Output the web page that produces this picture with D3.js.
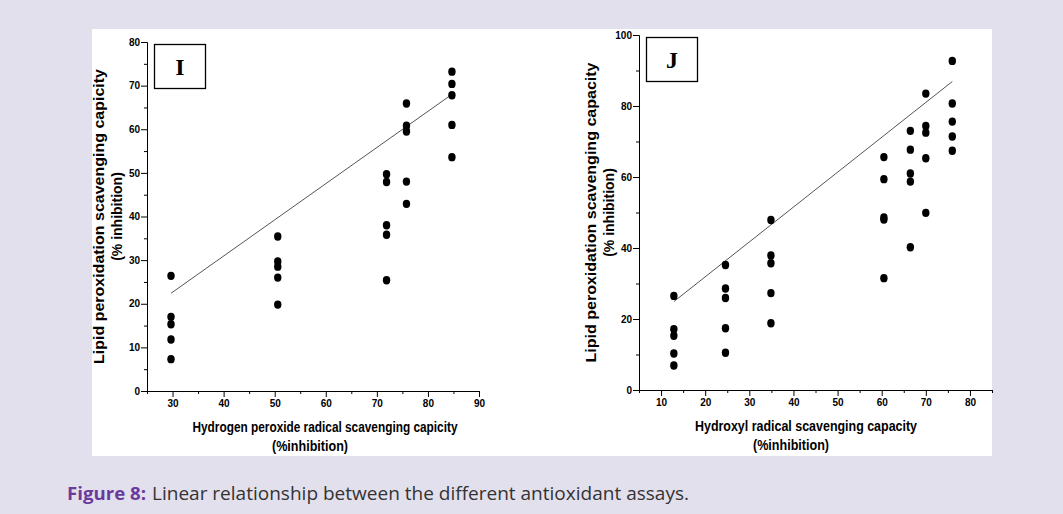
<!DOCTYPE html>
<html>
<head>
<meta charset="utf-8">
<script src="https://cdn.jsdelivr.net/npm/d3@7"></script>
<style>
	body { margin: 0; background: #e3e0ee; }
	svg { display: block; }
	.axis text { font-family: "Liberation Sans", Arial, sans-serif; font-weight: bold; font-size: 10px; fill: #000; }
	.axis path, .axis line { stroke: #000; stroke-width: 1; }
</style>
</head>
<body>
<div id="figure"></div>
<script>
var w = 1063;
var h = 514;

// Panel I : hydrogen peroxide vs lipid peroxidation
var xColsI = [29.7, 50.6, 71.9, 75.8, 84.7];
var yColsI = [
	[26.4, 17.0, 15.3, 11.8, 7.3],
	[35.4, 29.7, 28.5, 26.0, 19.8],
	[49.7, 47.9, 38.0, 35.8, 25.4],
	[65.9, 60.8, 59.5, 48.0, 42.9],
	[73.2, 70.4, 67.8, 61.0, 53.6]
];
var fitI = [[29.7, 22.4], [84.7, 68.0]];
var xTicksI = [30, 40, 50, 60, 70, 80, 90];
var yTicksI = [0, 10, 20, 30, 40, 50, 60, 70, 80];

// Panel J : hydroxyl radical vs lipid peroxidation
var xColsJ = [12.9, 24.6, 34.9, 60.5, 66.5, 70.0, 76.0];
var yColsJ = [
	[26.5, 17.1, 15.3, 10.3, 6.9],
	[35.2, 28.6, 25.9, 17.4, 10.5],
	[47.9, 37.9, 35.7, 27.3, 18.8],
	[65.6, 59.4, 48.6, 48.0, 31.5],
	[73.0, 67.7, 61.0, 58.7, 40.2],
	[83.5, 74.4, 72.5, 65.3, 49.9],
	[92.7, 80.7, 75.6, 71.4, 67.4]
];
var fitJ = [[12.9, 24.9], [76.0, 86.9]];
var xTicksJ = [10, 20, 30, 40, 50, 60, 70, 80];
var yTicksJ = [0, 20, 40, 60, 80, 100];

var svg = d3.select('#figure')
	.append('svg')
	.attr('width', w)
	.attr('height', h);

// white image area
svg.append('rect')
	.attr('x', 92)
	.attr('y', 29)
	.attr('width', 900)
	.attr('height', 427)
	.attr('fill', '#fff');

function drawPanel(p){
	var xScale = d3.scaleLinear().domain(p.xDomain).range([p.left, p.right]);
	var yScale = d3.scaleLinear().domain(p.yDomain).range([p.bottom, p.top]);
	var g = svg.append('g');

	// minor ticks
	g.append('g')
		.attr('class', 'axis')
		.attr('transform', 'translate(0,' + p.bottom + ')')
		.call(d3.axisBottom(xScale).tickValues(p.xMinor).tickSize(3).tickFormat('').tickSizeOuter(0));
	g.append('g')
		.attr('class', 'axis')
		.attr('transform', 'translate(' + p.left + ',0)')
		.call(d3.axisLeft(yScale).tickValues(p.yMinor).tickSize(3).tickFormat('').tickSizeOuter(0));

	// major ticks
	g.append('g')
		.attr('class', 'axis')
		.attr('transform', 'translate(0,' + p.bottom + ')')
		.call(d3.axisBottom(xScale).tickValues(p.xTicks).tickSize(6).tickPadding(3).tickSizeOuter(0));
	g.append('g')
		.attr('class', 'axis')
		.attr('transform', 'translate(' + p.left + ',0)')
		.call(d3.axisLeft(yScale).tickValues(p.yTicks).tickSize(6).tickPadding(1).tickSizeOuter(0));

	// fit line
	g.append('line')
		.attr('x1', xScale(p.fit[0][0]))
		.attr('y1', yScale(p.fit[0][1]))
		.attr('x2', xScale(p.fit[1][0]))
		.attr('y2', yScale(p.fit[1][1]))
		.attr('stroke', '#555')
		.attr('stroke-width', 1);

	// points
	var pts = [];
	p.xCols.forEach(function(x, i){
		p.yCols[i].forEach(function(y){ pts.push([x, y]); });
	});
	g.selectAll('ellipse')
		.data(pts)
		.enter()
		.append('ellipse')
		.attr('cx', function(d){ return xScale(d[0]); })
		.attr('cy', function(d){ return yScale(d[1]); })
		.attr('rx', 3.7)
		.attr('ry', 4.2)
		.attr('fill', '#000');

	// label box
	g.append('rect')
		.attr('x', p.left + 7.5)
		.attr('y', p.top + 2.5)
		.attr('width', 51)
		.attr('height', 44)
		.attr('fill', 'none')
		.attr('stroke', '#000')
		.attr('stroke-width', 1.3);
	g.append('text')
		.attr('x', p.left + 33)
		.attr('y', p.top + 33)
		.attr('text-anchor', 'middle')
		.attr('font-family', '"Liberation Serif", serif')
		.attr('font-weight', 'bold')
		.attr('font-size', 24)
		.text(p.label);

	// y title
	var cy = (p.top + p.bottom) / 2;
	g.append('text')
		.attr('transform', 'translate(' + (p.left - 43) + ',' + cy + ') rotate(-90)')
		.attr('text-anchor', 'middle')
		.attr('font-family', '"Liberation Sans", Arial, sans-serif')
		.attr('font-weight', 'bold')
		.attr('font-size', 14)
		.attr('textLength', p.yTitleLen)
		.attr('lengthAdjust', 'spacingAndGlyphs')
		.text(p.yTitle);
	g.append('text')
		.attr('transform', 'translate(' + (p.left - 25) + ',' + cy + ') rotate(-90)')
		.attr('text-anchor', 'middle')
		.attr('font-family', '"Liberation Sans", Arial, sans-serif')
		.attr('font-weight', 'bold')
		.attr('font-size', 14)
		.text('(% inhibition)');

	// x title
	g.append('text')
		.attr('x', p.xTitleX)
		.attr('y', p.bottom + 41)
		.attr('text-anchor', 'middle')
		.attr('font-family', '"Liberation Sans", Arial, sans-serif')
		.attr('font-weight', 'bold')
		.attr('font-size', 14)
		.attr('fill', '#000')
		.attr('textLength', p.xTitleLen)
		.attr('lengthAdjust', 'spacingAndGlyphs')
		.text(p.xTitle);
	g.append('text')
		.attr('x', p.xTitleX - 15)
		.attr('y', p.bottom + 60)
		.attr('text-anchor', 'middle')
		.attr('font-family', '"Liberation Sans", Arial, sans-serif')
		.attr('font-weight', 'bold')
		.attr('font-size', 14)
		.attr('fill', '#000')
		.attr('textLength', 76)
		.attr('lengthAdjust', 'spacingAndGlyphs')
		.text('(%inhibition)');
}

drawPanel({
	left: 147, right: 479, top: 42, bottom: 391,
	xDomain: [25, 90], yDomain: [0, 80],
	xTicks: xTicksI, yTicks: yTicksI,
	xMinor: d3.range(25, 90, 10), yMinor: d3.range(5, 80, 10),
	xCols: xColsI, yCols: yColsI, fit: fitI,
	label: 'I',
	yTitle: 'Lipid peroxidation scavenging capicity', yTitleLen: 295,
	xTitle: 'Hydrogen peroxide radical scavenging capicity', xTitleLen: 265, xTitleX: 325
});

drawPanel({
	left: 639, right: 992, top: 35, bottom: 390,
	xDomain: [5, 85], yDomain: [0, 100],
	xTicks: xTicksJ, yTicks: yTicksJ,
	xMinor: d3.range(5, 86, 10), yMinor: d3.range(10, 100, 20),
	xCols: xColsJ, yCols: yColsJ, fit: fitJ,
	label: 'J',
	yTitle: 'Lipid peroxidation scavenging capacity', yTitleLen: 300,
	xTitle: 'Hydroxyl radical scavenging capacity', xTitleLen: 222, xTitleX: 806
});

// caption
svg.append('text')
	.attr('x', 67)
	.attr('y', 500)
	.attr('font-family', '"Open Sans", sans-serif')
	.attr('font-size', 18)
	.attr('font-weight', 'bold')
	.attr('fill', '#6b3a9c')
	.attr('textLength', 79)
	.attr('lengthAdjust', 'spacingAndGlyphs')
	.text('Figure 8:');
svg.append('text')
	.attr('x', 152)
	.attr('y', 500)
	.attr('font-family', '"Open Sans", sans-serif')
	.attr('font-size', 18)
	.attr('fill', '#333')
	.attr('textLength', 537)
	.attr('lengthAdjust', 'spacingAndGlyphs')
	.text('Linear relationship between the different antioxidant assays.');
</script>
</body>
</html>
